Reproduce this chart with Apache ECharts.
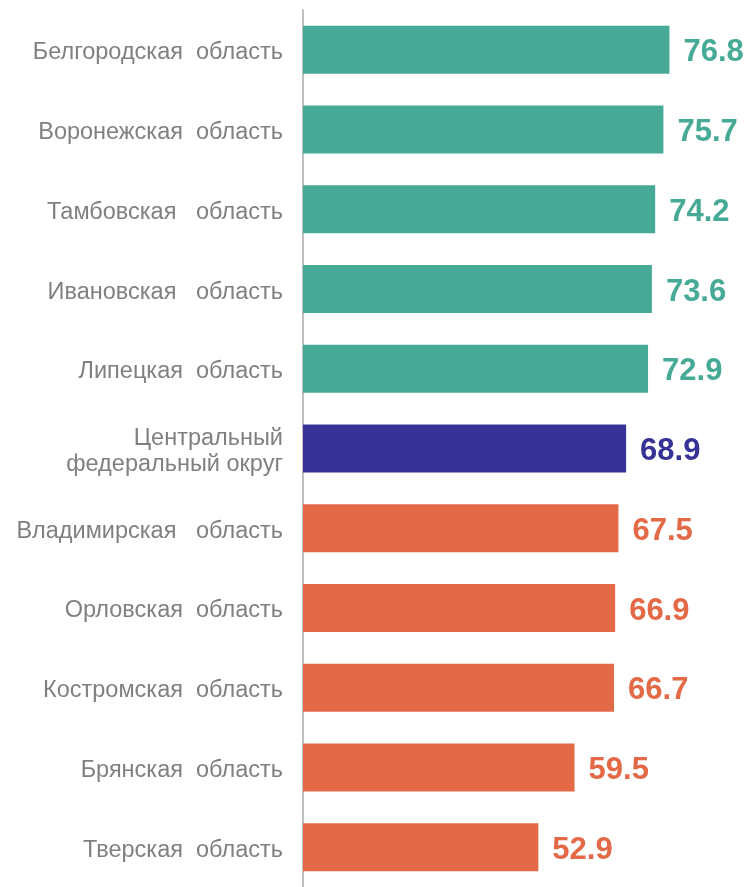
<!DOCTYPE html>
<html>
<head>
<meta charset="utf-8">
<script src="https://cdn.jsdelivr.net/npm/echarts@6/dist/echarts.min.js"></script>
<style>
html,body{margin:0;padding:0;background:#fff;}
#chart{width:746px;height:887px;}
</style>
</head>
<body>
<div id="chart"></div>
<script>
const categories = [
  "Белгородская  область",
  "Воронежская  область",
  "Тамбовская   область",
  "Ивановская   область",
  "Липецкая  область",
  "Центральный\nфедеральный округ",
  "Владимирская   область",
  "Орловская  область",
  "Костромская  область",
  "Брянская  область",
  "Тверская  область"
];
const values = [76.8, 75.7, 74.2, 73.6, 72.9, 68.9, 67.5, 66.9, 66.7, 59.5, 52.9];
const groups = ["above", "above", "above", "above", "above", "district", "below", "below", "below", "below", "below"];

const palette = { above: "#46AA97", district: "#363296", below: "#E36947" };

const chart = echarts.init(document.getElementById('chart'), null, { renderer: 'canvas' });
chart.setOption({
  animation: false,
  backgroundColor: '#ffffff',
  grid: { left: 303, top: 10, width: 384, height: 883, containLabel: false },
  xAxis: {
    type: 'value', min: 10, max: 80,
    show: false
  },
  yAxis: {
    type: 'category', inverse: true, data: categories,
    axisLine: { show: true, lineStyle: { color: '#BFBFBF', width: 2 } },
    axisTick: { show: false },
    splitLine: { show: false },
    axisLabel: {
      margin: 20, color: '#808080', fontSize: 23.5,
      fontFamily: '"Liberation Sans", Arial, sans-serif',
      align: 'right',
      formatter: v => v.split('\n').map(s => '{a|' + s + '}').join('\n'),
      rich: {
        a: {
          color: '#808080', fontSize: 23.5, lineHeight: 26,
          fontFamily: '"Liberation Sans", Arial, sans-serif',
          padding: [6, 0, 0, 0]
        }
      }
    }
  },
  series: [{
    type: 'bar',
    barWidth: 48,
    data: values.map((v, i) => ({
      value: v,
      itemStyle: { color: palette[groups[i]] },
      label: { color: palette[groups[i]] }
    })),
    label: {
      show: true, position: 'right', distance: 14,
      offset: [0, 3],
      fontSize: 31, fontWeight: 'bold',
      fontFamily: '"Liberation Sans", Arial, sans-serif',
      formatter: p => p.value.toFixed(1)
    }
  }]
});
</script>
</body>
</html>
